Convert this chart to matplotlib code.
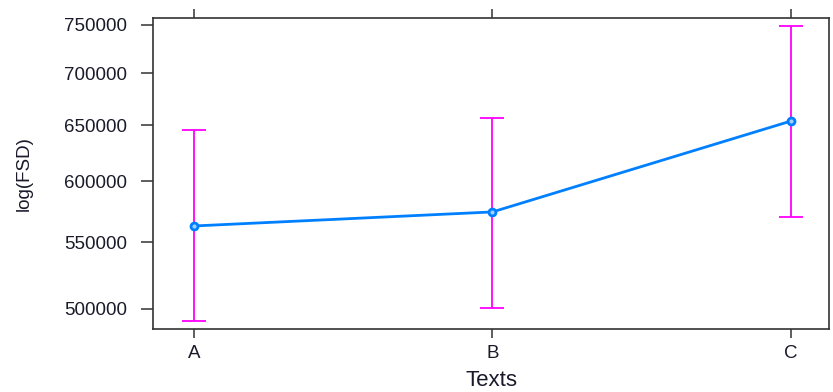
import matplotlib
matplotlib.use("Agg")
import matplotlib.pyplot as plt
from matplotlib.ticker import FixedLocator, FixedFormatter, NullLocator

categories = ["A", "B", "C"]
means = [562900, 574300, 653900]
upper = [645600, 656700, 749000]
lower = [491500, 500700, 570200]
yticks = [500000, 550000, 600000, 650000, 700000, 750000]
ytick_labels = ["500000", "550000", "600000", "650000", "700000", "750000"]

plt.rcParams['font.family'] = ['Liberation Sans', 'DejaVu Sans']

fig = plt.figure(figsize=(8.33, 3.92), dpi=100)
ax = fig.add_axes([153/833, 1-329/392, (829-153)/833, (329-18)/392])

x = list(range(len(categories)))
yerr = [[m - l for m, l in zip(means, lower)], [u - m for m, u in zip(means, upper)]]
ax.errorbar(x, means, yerr=yerr, fmt='none', ecolor='#ff00ff', elinewidth=1.3,
            capsize=8.6, capthick=1.3, zorder=2)
ax.plot(x, means, color='#0080ff', lw=2.0, marker='o', ms=5, mfc='#a0d0ff',
        mec='#0080ff', mew=2.0, zorder=3)

ax.set_yscale('log')
ax.set_ylim(485900, 757500)
ax.set_xlim(-0.137, 2.127)
ax.yaxis.set_major_locator(FixedLocator(yticks))
ax.yaxis.set_major_formatter(FixedFormatter(ytick_labels))
ax.yaxis.set_minor_locator(NullLocator())
ax.set_xticks(x)
ax.set_xticklabels(categories)

for s in ax.spines.values():
    s.set_color('#333333')
    s.set_linewidth(1.2)

ax.tick_params(axis='y', which='major', direction='out', length=8.6, width=1.1,
               pad=10, labelsize=13.5, colors='#333333', labelcolor='#1a1a2a', right=False)
ax.tick_params(axis='x', which='major', direction='out', length=6.5, width=1.1,
               pad=5, labelsize=13.5, colors='#333333', labelcolor='#1a1a2a', top=True)

ax.set_xlabel("Texts", fontsize=16, color='#1a1a2a')
ax.xaxis.set_label_coords(0.5, -0.167)
ax.xaxis.label.set_va('center')
ax.set_ylabel("log(FSD)", fontsize=13.5, color='#1a1a2a')
ax.yaxis.set_label_coords(-0.19, 0.5)
ax.yaxis.label.set_va('center')

fig.savefig("out.png", dpi=100)
